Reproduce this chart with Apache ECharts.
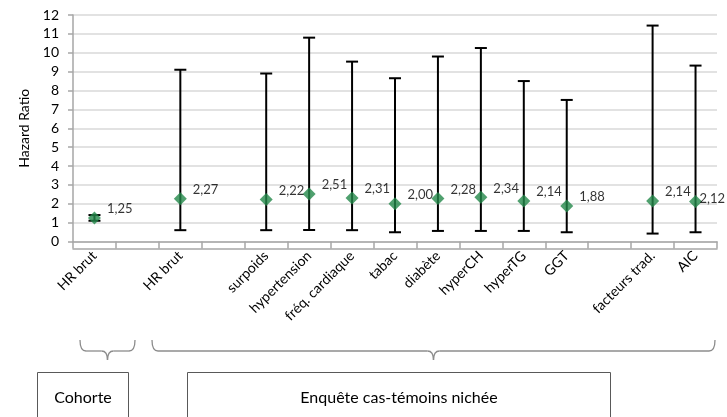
<!DOCTYPE html>
<html>
<head>
<meta charset="utf-8">
<script src="https://cdn.jsdelivr.net/npm/echarts@6/dist/echarts.min.js"></script>
<style>
  html, body { margin: 0; padding: 0; background: #fff; }
  #chart { width: 727px; height: 417px; }
</style>
</head>
<body>
<div id="chart"></div>
<script>
// Categories along the x axis (empty slots separate the groups)
const categories = ['HR brut', '', 'HR brut', '', 'surpoids', 'hypertension', 'fréq. cardiaque',
  'tabac', 'diabète', 'hyperCH', 'hyperTG', 'GGT', '', 'facteurs trad.', 'AIC'];
// Hazard ratios (point estimates)
const hazardRatio = [1.25, null, 2.27, null, 2.22, 2.51, 2.31, 2.00, 2.28, 2.34, 2.14, 1.88, null, 2.14, 2.12];
// Confidence interval bounds
const ciLow  = [1.10, null, 0.60, null, 0.60, 0.61, 0.60, 0.49, 0.56, 0.56, 0.56, 0.49, null, 0.42, 0.49];
const ciHigh = [1.40, null, 9.10, null, 8.90, 10.80, 9.53, 8.65, 9.80, 10.25, 8.50, 7.50, null, 11.44, 9.32];
// Y axis ticks
const yTicks = { min: 0, max: 12, step: 1 };

const FONT = 'Lato';
const W = 727;
const chart = echarts.init(document.getElementById('chart'), null, { renderer: 'canvas' });

const pointData = hazardRatio.map(v => (v === null ? '-' : v));
const barData = categories.map((c, i) => (hazardRatio[i] === null ? null : [i, ciLow[i], ciHigh[i]])).filter(d => d);

const fmt = v => v.toFixed(2).replace('.', ',');

// Curly brace built from curves and lines: spans x0..x1, top at y0
function brace(x0, x1, y0, h, d) {
  const xm = (x0 + x1) / 2, r = 6, yb = y0 + h;
  const style = { stroke: '#8c8c8c', lineWidth: 1.3, fill: null };
  const curve = (a, b, c, e, f, g) => ({ type: 'bezierCurve', shape: { x1: a, y1: b, cpx1: c, cpy1: e, x2: f, y2: g }, style: style });
  const line = (a, b, c, e) => ({ type: 'line', shape: { x1: a, y1: b, x2: c, y2: e }, style: style });
  return {
    type: 'group',
    children: [
      curve(x0, y0, x0, yb, x0 + r, yb),
      line(x0 + r, yb, xm - r, yb),
      curve(xm - r, yb, xm, yb, xm, yb + d),
      curve(xm + r, yb, xm, yb, xm, yb + d),
      line(xm + r, yb, x1 - r, yb),
      curve(x1, y0, x1, yb, x1 - r, yb)
    ]
  };
}

const AXIS_GRAY = '#a6a6a6';

chart.setOption({
  animation: false,
  backgroundColor: '#fff',
  textStyle: { fontFamily: FONT },
  grid: { left: 73, right: 10, top: 15, bottom: 175.5, containLabel: false },
  xAxis: [{
    type: 'category',
    data: categories,
    boundaryGap: true,
    axisLine: { show: true, lineStyle: { color: AXIS_GRAY, width: 1.5 } },
    axisTick: { show: true, length: 7, lineStyle: { color: AXIS_GRAY, width: 1.5 } },
    axisLabel: { interval: 0, rotate: 45, margin: 12, color: '#000', fontSize: 14, fontFamily: FONT },
    splitLine: { show: false }
  }, {
    type: 'category',
    data: categories,
    position: 'bottom',
    offset: 7,
    axisLine: { show: true, lineStyle: { color: AXIS_GRAY, width: 1.5 } },
    axisTick: { show: false },
    axisLabel: { show: false }
  }],
  yAxis: {
    type: 'value',
    min: yTicks.min, max: yTicks.max, interval: yTicks.step,
    name: 'Hazard Ratio',
    nameLocation: 'middle',
    nameGap: 42,
    nameTextStyle: { color: '#000', fontSize: 14, fontFamily: FONT },
    axisLine: { show: true, lineStyle: { color: AXIS_GRAY, width: 1.5 } },
    axisTick: { show: true, length: 5, lineStyle: { color: AXIS_GRAY, width: 1.5 } },
    axisLabel: { color: '#000', fontSize: 14, margin: 14, fontFamily: FONT },
    splitLine: { show: true, lineStyle: { color: '#d9d9d9', width: 1.5 } }
  },
  series: [{
    type: 'custom',
    name: 'IC',
    z: 2,
    data: barData,
    renderItem: function (params, api) {
      const x = api.value(0);
      const lo = api.coord([x, api.value(1)]);
      const hi = api.coord([x, api.value(2)]);
      const cap = 6;
      const style = { stroke: '#000', lineWidth: 2 };
      return {
        type: 'group',
        children: [
          { type: 'line', shape: { x1: lo[0], y1: lo[1], x2: hi[0], y2: hi[1] }, style: style },
          { type: 'line', shape: { x1: lo[0] - cap, y1: lo[1], x2: lo[0] + cap, y2: lo[1] }, style: style },
          { type: 'line', shape: { x1: hi[0] - cap, y1: hi[1], x2: hi[0] + cap, y2: hi[1] }, style: style }
        ]
      };
    }
  }, {
    type: 'scatter',
    name: 'HR',
    z: 3,
    data: pointData,
    symbol: 'diamond',
    symbolSize: 13,
    itemStyle: { color: '#23884a' },
    label: {
      show: true,
      position: 'right',
      distance: 6,
      color: '#000',
      fontSize: 13,
      fontFamily: FONT,
      formatter: p => fmt(p.value)
    },
    // raise labels a little and keep them inside the canvas
    labelLayout: function (params) {
      const r = params.labelRect;
      const out = { dy: -9 };
      if (r.x + r.width > W - 2) out.x = W - 2 - r.width;
      return out;
    }
  }],
  graphic: [
    brace(80, 135, 340, 11, 9),
    brace(152, 715, 340, 11, 9),
    { type: 'rect', shape: { x: 37.5, y: 372.5, width: 91, height: 50 },
      style: { stroke: '#595959', lineWidth: 1, fill: '#fff' } },
    { type: 'text', x: 83, y: 398,
      style: { text: 'Cohorte', font: '16px ' + FONT, fill: '#000', align: 'center', verticalAlign: 'middle' } },
    { type: 'rect', shape: { x: 187.5, y: 372.5, width: 423, height: 50 },
      style: { stroke: '#595959', lineWidth: 1, fill: '#fff' } },
    { type: 'text', x: 399, y: 398,
      style: { text: 'Enquête cas-témoins nichée', font: '16px ' + FONT, fill: '#000', align: 'center', verticalAlign: 'middle' } }
  ]
});
</script>
</body>
</html>
